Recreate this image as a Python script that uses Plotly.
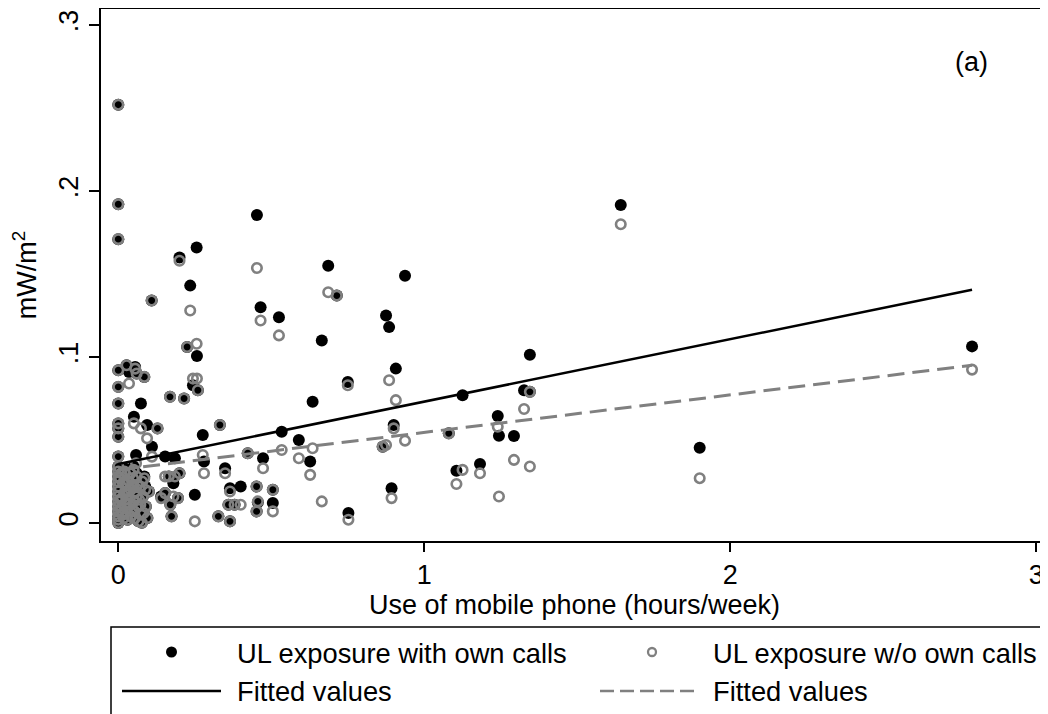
import plotly.graph_objects as go

# hours/week of mobile phone use, UL exposure with and without own calls (mW/m2)
phone_use = [
    0, 0, 0, 0, 0, 0, 0, 0, 0, 0,
    0, 0, 0, 0, 0, 0, 0, 0, 0, 0, 0, 0, 0,
    0.01, 0.015, 0.02, 0.025, 0.012, 0.03, 0.035, 0.04, 0.045, 0.05, 0.055, 0.06,
    0.065, 0.07, 0.075, 0.08, 0.02, 0.03, 0.045, 0.06, 0.085, 0.09, 0.1, 0.077,
    0.068, 0.005, 0.008, 0.015, 0.025, 0.035, 0.04, 0.05,
    0.012, 0.018, 0.022, 0.028, 0.033, 0.038, 0.042, 0.048, 0.052, 0.058,
    0.062, 0.066, 0.072, 0.078, 0.083, 0.088, 0.095, 0.01, 0.03, 0.05,
    0.027, 0.055, 0.06, 0.085, 0.035, 0.109, 0.074, 0.051, 0.094, 0.128,
    0.11, 0.058, 0.153, 0.185, 0.165, 0.20, 0.18, 0.153, 0.14, 0.195,
    0.17, 0.174, 0.169, 0.215, 0.244, 0.26, 0.257, 0.225, 0.235, 0.20, 0.256,
    0.453, 0.686, 0.937, 0.465, 0.525, 0.665, 0.875, 0.885, 0.907, 0.75,
    0.635, 0.534, 0.59, 0.627, 0.473, 0.349, 0.40, 0.365, 0.505, 0.25,
    0.276, 0.752, 0.893, 0.90, 0.714, 0.423, 0.452, 0.452, 0.456, 0.505,
    0.365, 0.327, 0.332, 0.36, 0.38, 0.864, 0.28,
    1.642, 1.345, 1.326, 1.345, 1.08, 1.105, 1.125, 1.24, 1.244, 1.293,
    1.182, 1.90, 2.79,
]
ul_with_calls = [
    0.252, 0.192, 0.171, 0.092, 0.082, 0.072, 0.060, 0.057, 0.052, 0.040,
    0.034, 0.031, 0.028, 0.025, 0.022, 0.019, 0.016, 0.013, 0.010, 0.007, 0.004, 0.002, 0.0,
    0.030, 0.024, 0.018, 0.012, 0.006, 0.002, 0.027, 0.020, 0.008, 0.015, 0.003, 0.030,
    0.010, 0.022, 0.005, 0.016, 0.033, 0.009, 0.025, 0.018, 0.028, 0.010, 0.019, 0.0002,
    0.020, 0.029, 0.014, 0.005, 0.021, 0.013, 0.031, 0.024,
    0.017, 0.003, 0.026, 0.014, 0.019, 0.032, 0.004, 0.029, 0.007, 0.021,
    0.025, 0.001, 0.013, 0.027, 0.006, 0.022, 0.003, 0.009, 0.016, 0.034,
    0.095, 0.094, 0.090, 0.088, 0.091, 0.134, 0.072, 0.064, 0.059, 0.057,
    0.046, 0.041, 0.040, 0.039, 0.028, 0.030, 0.024, 0.018, 0.016, 0.015,
    0.011, 0.004, 0.076, 0.075, 0.083, 0.080, 0.1006, 0.106, 0.143, 0.160, 0.166,
    0.1855, 0.155, 0.149, 0.130, 0.124, 0.110, 0.125, 0.118, 0.093, 0.085,
    0.073, 0.055, 0.050, 0.037, 0.039, 0.033, 0.022, 0.021, 0.012, 0.017,
    0.053, 0.006, 0.021, 0.059, 0.137, 0.042, 0.022, 0.007, 0.0125, 0.020,
    0.001, 0.004, 0.059, 0.011, 0.011, 0.046, 0.037,
    0.1916, 0.1014, 0.080, 0.079, 0.054, 0.0315, 0.077, 0.0645, 0.0526, 0.0524,
    0.0355, 0.0454, 0.1064,
]
ul_without_calls = [
    0.252, 0.192, 0.171, 0.092, 0.082, 0.072, 0.060, 0.057, 0.052, 0.040,
    0.034, 0.031, 0.028, 0.025, 0.022, 0.019, 0.016, 0.013, 0.010, 0.007, 0.004, 0.002, 0.0,
    0.030, 0.024, 0.018, 0.012, 0.006, 0.002, 0.025, 0.020, 0.008, 0.013, 0.003, 0.028,
    0.010, 0.022, 0.005, 0.016, 0.031, 0.009, 0.023, 0.016, 0.027, 0.010, 0.019, 0.0002,
    0.014, 0.027, 0.014, 0.005, 0.019, 0.011, 0.030, 0.022,
    0.015, 0.003, 0.024, 0.012, 0.019, 0.030, 0.004, 0.027, 0.007, 0.019,
    0.023, 0.001, 0.011, 0.025, 0.006, 0.020, 0.003, 0.009, 0.014, 0.032,
    0.095, 0.093, 0.090, 0.088, 0.084, 0.134, 0.057, 0.060, 0.051, 0.057,
    0.040, 0.036, 0.028, 0.028, 0.028, 0.030, 0.016, 0.018, 0.015, 0.015,
    0.011, 0.004, 0.076, 0.075, 0.087, 0.080, 0.087, 0.106, 0.128, 0.158, 0.108,
    0.1536, 0.139, 0.0496, 0.122, 0.113, 0.013, 0.047, 0.086, 0.074, 0.083,
    0.045, 0.044, 0.039, 0.029, 0.033, 0.030, 0.011, 0.019, 0.007, 0.001,
    0.041, 0.002, 0.015, 0.057, 0.137, 0.042, 0.022, 0.007, 0.013, 0.020,
    0.001, 0.004, 0.059, 0.011, 0.011, 0.046, 0.030,
    0.180, 0.034, 0.0687, 0.079, 0.054, 0.0235, 0.032, 0.058, 0.016, 0.038,
    0.030, 0.027, 0.0924,
]

# fitted values (linear fit) at min and max of phone use
fit_x = [0, 2.79]
fit_with = [0.0355, 0.1405]
fit_without = [0.032, 0.095]

GRAY = "#808080"
FONT = "Liberation Sans, Arial, sans-serif"

# the page body has an 8px margin, so the figure starts at (8, 8) in the window
OFF = 8
W, H = 1048 - OFF, 714 - OFF
# plot area in window pixels (left, right, top, bottom)
PL, PR, PT, PB = 101, 1048, 9, 541


def px(x):
    return (x - PL) / (PR - PL)


def py(y):
    return (PB - y) / (PB - PT)


fig = go.Figure()

fig.add_trace(
    go.Scatter(
        x=phone_use,
        y=ul_with_calls,
        mode="markers",
        name="UL exposure with own calls",
        marker=dict(color="black", size=12, line=dict(width=0)),
    )
)
fig.add_trace(
    go.Scatter(
        x=phone_use,
        y=ul_without_calls,
        mode="markers",
        name="UL exposure w/o own calls",
        marker=dict(symbol="circle-open", color=GRAY, size=9.5, line=dict(width=2.6)),
    )
)
fig.add_trace(
    go.Scatter(
        x=fit_x,
        y=fit_with,
        mode="lines",
        name="Fitted values",
        line=dict(color="black", width=2.5),
    )
)
fig.add_trace(
    go.Scatter(
        x=fit_x,
        y=fit_without,
        mode="lines",
        name="Fitted values",
        line=dict(color=GRAY, width=3, dash="17px,8px"),
    )
)

# hand-made legend box below the plot (Stata style)
shapes = [
    dict(type="rect", xref="paper", yref="paper",
         x0=px(111), x1=px(1045), y0=py(730), y1=py(627),
         line=dict(color="black", width=1.5), fillcolor="white", layer="below"),
    dict(type="circle", xref="paper", yref="paper",
         x0=px(166), x1=px(177), y0=py(657.5), y1=py(646.5),
         fillcolor="black", line=dict(width=0)),
    dict(type="circle", xref="paper", yref="paper",
         x0=px(648), x1=px(656), y0=py(656), y1=py(648),
         line=dict(color=GRAY, width=2.3)),
    dict(type="line", xref="paper", yref="paper",
         x0=px(122), x1=px(221), y0=py(691), y1=py(691),
         line=dict(color="black", width=2.5)),
    dict(type="line", xref="paper", yref="paper",
         x0=px(600), x1=px(697), y0=py(691), y1=py(691),
         line=dict(color=GRAY, width=2.5, dash="14px,6px")),
]

legend_text = [
    (235, 653, "UL exposure with own calls"),
    (711, 653, "UL exposure w/o own calls"),
    (235, 691, "Fitted values"),
    (711, 691, "Fitted values"),
]
annotations = [
    dict(x=px(x), y=py(y), xref="paper", yref="paper", text=t,
         showarrow=False, xanchor="left", yanchor="middle",
         font=dict(size=27.3, color="black", family=FONT))
    for x, y, t in legend_text
]
annotations.append(
    dict(x=px(971), y=py(62), xref="paper", yref="paper", text="(a)",
         showarrow=False, xanchor="center", yanchor="middle",
         font=dict(size=27, color="black", family=FONT))
)

fig.update_layout(
    width=W,
    height=H,
    margin=dict(l=PL - OFF, r=1048 - PR, t=PT - OFF, b=714 - PB),
    paper_bgcolor="white",
    plot_bgcolor="white",
    showlegend=False,
    font=dict(family=FONT, size=27, color="black"),
    shapes=shapes,
    annotations=annotations,
    xaxis=dict(
        range=[(PL - 118.3) / 306, (PR - 118.3) / 306],
        tickvals=[0, 1, 2, 3],
        ticks="outside",
        ticklen=9,
        tickwidth=1.5,
        tickcolor="black",
        showline=True,
        linecolor="black",
        linewidth=2,
        mirror=True,
        showgrid=False,
        zeroline=False,
        automargin=False,
        tickfont=dict(size=27),
        title=dict(text="Use of mobile phone (hours/week)", standoff=0,
                   font=dict(size=27)),
    ),
    yaxis=dict(
        range=[(523 - PB) / 1660, (523 - PT) / 1660],
        tickvals=[0, 0.1, 0.2, 0.3],
        ticktext=["0", ".1", ".2", ".3"],
        tickangle=-90,
        ticks="outside",
        ticklen=10,
        tickwidth=1.5,
        tickcolor="black",
        showline=True,
        linecolor="black",
        linewidth=2,
        showgrid=False,
        zeroline=False,
        automargin=False,
        tickfont=dict(size=27),
        title=dict(text="mW/m<sup>2</sup>", standoff=12, font=dict(size=27)),
    ),
)

fig.write_html("out.html")
